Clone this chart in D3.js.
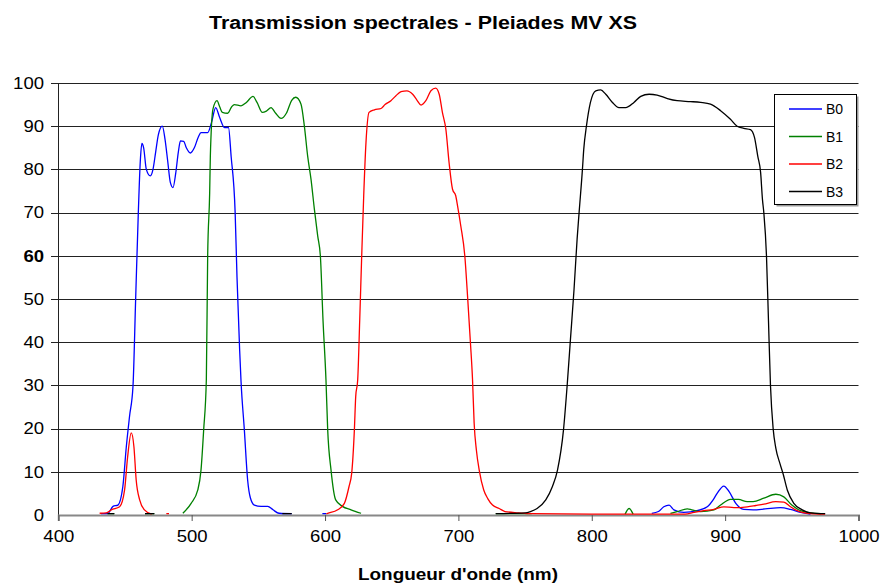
<!DOCTYPE html>
<html>
<head>
<meta charset="utf-8">
<script src="https://cdn.jsdelivr.net/npm/d3@7"></script>
<style>
  body { margin: 0; background: #fff; }
  text { font-family: "Liberation Sans", Arial, sans-serif; }
</style>
</head>
<body>
<script>
var w = 880;
var h = 586;

// transmission curves, [wavelength nm, %], null = gap in the line
var b0 = [[432,0.3],[437,0.3],[441,2],[444.7,2.3],[448.4,6.6],[451,15.8],[453.4,22.8],[456,29.8],[458,50],[460,70],
  [461.5,82],[462.7,86],[464,85],[466,80],[469,78.5],[471,80],[473,84],[475,88],[478,90],[480,87],[482,82],[484,77],
  [486,75.8],[488,79],[490,84],[491.6,86.6],[494,86.5],[496,85],[499,83.8],[502,85],[505,87.5],[507,88.5],[512,88.5],
  [515,91],[518,94.3],[521,92],[524.6,89.7],[527.6,89.7],[529.6,83],[532.6,70],[534,55],[536,38],[537,31],[539.5,19.7],
  [542,8],[544,4],[547,2.3],[552,2],[557,2],[561,1.2],[565.5,0.4],[575,0.3],null,[598,0.3],[601,0.3],null,
  [845,0.4],[850,0.8],[854,1.9],[858,2.3],[861.6,1.2],[869,0.6],[879,1],[886.6,1.9],[891,3.5],[894,5],[899,6.7],
  [903,5.4],[908,2.7],[914,1.3],[921,1.2],[930,1.4],[941.6,1.7],[949,1.3],[956.5,0.6],[964,0.2]];

var b1 = [[437,0.3],[442,0.3],null,[465,0.3],[472,0.3],null,[493.4,0.4],[499.6,2.7],[504.6,5.8],[507,10.4],[509,19.7],
  [511,31.3],[512,60],[513.5,74.6],[514,83],[516,94],[519,95.9],[521,94.5],[523,93.2],[527,93],[530,94.5],[532,95],
  [537,94.7],[541,95.5],[546,96.9],[549,95.5],[553,93.2],[556,93.5],[559.5,94.3],[563,93],[567,91.8],[571,93],[575,96],
  [578,96.7],[582,95.1],[584.5,90],[587,83],[589.5,77.7],[592,70.8],[594.5,64.6],[596.5,60],[598.5,45],[600.7,31.3],
  [602,19.7],[604.5,10.4],[608,3.5],[613,2],[619.5,1.2],[627,0.4],null,[728,0.3],[755,0.3],null,[825,0.2],[828,1.5],
  [831,0.2],null,[859,0.4],[864,0.8],[871.6,1.4],[875,1.2],[881.6,0.8],[891.6,1.2],[896.6,2.3],[904,3.6],[910,3.6],
  [916.5,3.1],[921,3.1],[929,3.9],[938,4.8],[944,4.2],[950,2.3],[956.5,1],[964,0.5],[972,0.3]];

var b2 = [[431,0.4],[436,0.5],[439.7,1.2],[446,1.9],[449.7,5.8],[452,13.5],[454.7,19],[456.7,15.8],[458.4,8.1],[461,3.5],
  [464.6,1.2],[470,0.2],null,[481,0.3],[483,0.3],null,[601,0.3],[602,0.4],[609.5,1.2],[614.5,2.7],[618,6.6],[620,9.7],
  [622,19.7],[623,27.4],[624.5,31.3],[626,45],[627.5,60],[629,73.9],[630.7,86.2],[633,93.2],[637,93.8],[642,94.1],
  [645,95],[649.4,95.9],[653,97],[657,98],[661.4,98.2],[665.7,97.4],[669,96],[672,94.9],[675.6,95.9],[679.4,98.2],
  [683,98.8],[685.6,97.4],[688,93.2],[690.6,89.3],[693,81.6],[695.6,75.4],[698,73.9],[699.4,71.5],[701.8,66.9],
  [704.8,60],[707,50],[709,40],[710.6,31.3],[711.8,21.3],[713.5,15],[715.6,10.4],[719,5.8],[722,3.8],[725.6,2.3],
  [730.6,1.5],[735,0.8],[745,0.5],[755,0.3],[800,0.2],[870,0.2],[876.6,0.6],[884,1],[891.6,1.3],[899,1.9],[906.6,1.7],
  [916.6,1.9],[923,2.2],[929,2.5],[938,3.1],[944,3],[949,1.9],[954,1],[961.5,0.4],[975,0.2]];

var b3 = [[437,0.3],[442,0.3],null,[465,0.3],[472,0.3],null,[568,0.3],[575,0.3],null,[728,0.3],[750,0.5],[754,0.8],
  [759,1.5],[765.5,3.5],[770.5,6.6],[774.3,10.4],[778.8,19.7],[781.7,30.6],[784,40.6],[786.7,52.2],[789,63.8],[790.5,70],
  [793,80],[794,84.7],[796,90],[799,95.5],[803,98.2],[806.7,98.4],[810.5,97.4],[815.5,95.5],[820.4,94.3],[825.4,94.3],
  [831.6,95.5],[836.7,96.9],[843,97.4],[849,97.2],[856.7,96.4],[864,95.9],[874,95.7],[881.6,95.5],[889,95.1],
  [896.6,93.6],[904,91.6],[909,90],[914,89.5],[919,89.2],[922,87.4],[924.5,83],[926.6,79.3],[928,73],[929,70],[931,60],
  [932.5,45],[934,30],[936,20],[938,15.5],[941,12],[943.5,9.5],[946.6,5.8],[951.5,2.7],[957.8,1.2],[964,0.5],[975,0.3]];

var bands = ["B0", "B1", "B2", "B3"];
var colors = ["#0000ff", "#008000", "#ff0000", "#000000"];
var xTicks = [400, 500, 600, 700, 800, 900, 1000];
var yTicks = [0, 10, 20, 30, 40, 50, 60, 70, 80, 90, 100];
var series = [b0, b1, b2, b3];

var svg = d3.select("body").append("svg").attr("width", w).attr("height", h);

var x = d3.scaleLinear().domain([400, 1000]).range([58.3, 858.5]);
var y = d3.scaleLinear().domain([0, 100]).range([515, 83]);

// labels in the picture are a bit wider than the font
function stretch(sel, perChar) {
    sel.attr("textLength", function (d) { return String(d).length * perChar; })
        .attr("lengthAdjust", "spacingAndGlyphs");
}

// title
svg.append("text")
    .attr("x", 423).attr("y", 29)
    .attr("text-anchor", "middle")
    .attr("textLength", 428).attr("lengthAdjust", "spacingAndGlyphs")
    .style("font-size", "18px").style("font-weight", "bold")
    .text("Transmission spectrales - Pleiades MV XS");

// horizontal grid
svg.append("g").selectAll("line")
    .data(yTicks.filter(function (d) { return d > 0; }))
    .enter().append("line")
    .attr("x1", 51).attr("x2", x(1000))
    .attr("y1", function (d) { return Math.round(y(d)) + 0.5; })
    .attr("y2", function (d) { return Math.round(y(d)) + 0.5; })
    .attr("stroke", "#222").attr("stroke-width", 1);

// y labels
svg.append("g").selectAll("text")
    .data(yTicks)
    .enter().append("text")
    .attr("x", 44)
    .attr("y", function (d) { return y(d); })
    .attr("dy", "0.36em")
    .attr("text-anchor", "end")
    .style("font-size", "16px")
    .style("font-weight", function (d) { return d === 60 ? "bold" : "normal"; })
    .text(function (d) { return d; })
    .call(stretch, 10.3);

// y axis line
svg.append("line")
    .attr("x1", 58.5).attr("x2", 58.5).attr("y1", y(100)).attr("y2", y(0))
    .attr("stroke", "#222");

// x axis
var xAxis = d3.axisBottom(x).tickValues(xTicks).tickFormat(d3.format("d")).tickSize(6).tickPadding(10);
var gx = svg.append("g").attr("transform", "translate(0," + y(0) + ")").call(xAxis);
gx.select(".domain").attr("stroke", "#888").attr("stroke-width", 2);
gx.selectAll(".tick line").attr("stroke", "#555");
gx.selectAll(".tick text")
    .style("font-family", "'Liberation Sans', Arial, sans-serif")
    .style("font-size", "16px").attr("fill", "#000")
    .call(stretch, 10.3);

svg.append("text")
    .attr("x", 458).attr("y", 580)
    .attr("text-anchor", "middle")
    .attr("textLength", 200).attr("lengthAdjust", "spacingAndGlyphs")
    .style("font-size", "17px").style("font-weight", "bold")
    .text("Longueur d'onde (nm)");

// curves
var line = d3.line()
    .defined(function (d) { return d !== null; })
    .x(function (d) { return x(d[0]); })
    .y(function (d) { return y(d[1]); })
    .curve(d3.curveMonotoneX);

svg.append("g").selectAll("path")
    .data(series)
    .enter().append("path")
    .attr("d", line)
    .attr("fill", "none")
    .attr("stroke", function (d, i) { return colors[i]; })
    .attr("stroke-width", 1.3);

// legend
var lg = svg.append("g");
lg.append("rect").attr("x", 776.5).attr("y", 96.5).attr("width", 82).attr("height", 110)
    .attr("fill", "#999");
lg.append("rect").attr("x", 774.5).attr("y", 94.5).attr("width", 82).attr("height", 110)
    .attr("fill", "#fff").attr("stroke", "#000");

var items = lg.selectAll("g.item")
    .data(bands)
    .enter().append("g")
    .attr("class", "item")
    .attr("transform", function (d, i) { return "translate(0," + (109 + i * 27.5) + ")"; });
items.append("line")
    .attr("x1", 789).attr("x2", 822)
    .attr("stroke", function (d, i) { return colors[i]; })
    .attr("stroke-width", 1.5);
items.append("text")
    .attr("x", 826).attr("dy", "0.36em")
    .style("font-size", "14px")
    .text(function (d) { return d; });
</script>
</body>
</html>
